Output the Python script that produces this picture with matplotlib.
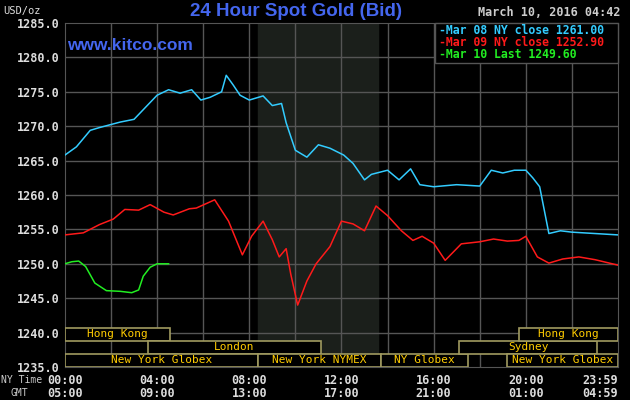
import matplotlib
matplotlib.use("Agg")
import matplotlib.pyplot as plt
from matplotlib.patches import Rectangle

mono = "DejaVu Sans Mono"

# hours since 00:00 NY time, prices in USD/oz
mar08_h = [0, 0.5, 1.1, 1.5, 2.4, 3.0, 4.0, 4.5, 5.0, 5.5, 5.9, 6.3, 6.8, 7.0, 7.3, 7.6, 8.0, 8.6, 9.0,
           9.4, 9.6, 10.0, 10.5, 11.0, 11.5, 12.1, 12.5, 13.0, 13.3, 14.0, 14.5, 15.0, 15.4, 16.0, 17.0,
           18.0, 18.5, 19.0, 19.5, 20.0, 20.3, 20.6, 21.0, 21.5, 22.0, 23.0, 24.0]
mar08_p = [1265.8, 1267.0, 1269.4, 1269.8, 1270.6, 1271.0, 1274.5, 1275.3, 1274.8, 1275.3, 1273.8, 1274.2,
           1275.0, 1277.4, 1276.0, 1274.5, 1273.8, 1274.4, 1273.0, 1273.3, 1270.5, 1266.5, 1265.5, 1267.3,
           1266.8, 1265.8, 1264.6, 1262.2, 1263.0, 1263.6, 1262.2, 1263.8, 1261.5, 1261.2, 1261.5, 1261.3,
           1263.6, 1263.2, 1263.6, 1263.6, 1262.5, 1261.2, 1254.4, 1254.8, 1254.6, 1254.4, 1254.2]

mar09_h = [0, 0.8, 1.5, 2.1, 2.6, 3.2, 3.7, 4.3, 4.7, 5.4, 5.7, 6.5, 7.1, 7.7, 8.1, 8.6, 9.0, 9.3, 9.6,
           9.8, 10.1, 10.5, 10.9, 11.5, 12.0, 12.5, 13.0, 13.5, 14.0, 14.6, 15.1, 15.5, 16.0, 16.5, 17.2,
           18.0, 18.6, 19.2, 19.7, 20.0, 20.5, 21.0, 21.6, 22.3, 23.0, 24.0]
mar09_p = [1254.2, 1254.5, 1255.7, 1256.5, 1257.9, 1257.8, 1258.6, 1257.5, 1257.1, 1258.0, 1258.1,
           1259.3, 1256.2, 1251.3, 1254.0, 1256.2, 1253.5, 1251.0, 1252.2, 1248.5, 1244.0, 1247.5,
           1250.0, 1252.5, 1256.2, 1255.8, 1254.8, 1258.4, 1257.0, 1254.8, 1253.4, 1254.0, 1253.0,
           1250.5, 1252.9, 1253.2, 1253.6, 1253.3, 1253.4, 1254.0, 1251.0, 1250.1, 1250.7, 1251.0,
           1250.6, 1249.8]

mar10_h = [0, 0.3, 0.6, 0.9, 1.3, 1.8, 2.4, 2.9, 3.2, 3.4, 3.7, 4.0, 4.5]
mar10_p = [1250.0, 1250.3, 1250.4, 1249.6, 1247.2, 1246.1, 1246.0, 1245.8, 1246.2, 1248.2, 1249.5, 1250.0, 1250.0]

# (label, start hour, end hour, row) ; row 0 = bottom
sessions = [("Hong Kong", 0, 4.55, 2), ("London", 3.6, 11.1, 1), ("New York Globex", 0, 8.4, 0),
            ("New York NYMEX", 8.4, 13.7, 0), ("NY Globex", 13.7, 17.5, 0), ("Sydney", 17.1, 23.1, 1),
            ("Hong Kong", 19.7, 24, 2), ("New York Globex", 19.2, 24, 0)]

ny_ticks = ["00:00", "04:00", "08:00", "12:00", "16:00", "20:00", "23:59"]
gmt_ticks = ["05:00", "09:00", "13:00", "17:00", "21:00", "01:00", "04:59"]
tick_h = [0, 4, 8, 12, 16, 20, 24]

fig = plt.figure(figsize=(6.3, 4.0), dpi=100, facecolor="black")
ax = fig.add_axes([0.103, 0.0825, 0.878, 0.86], facecolor="black")
ax.set_xlim(0, 24)
ax.set_ylim(1235, 1285)

ax.axvspan(8.38, 13.58, color="#1b1f1b", zorder=0)
for h in range(2, 24, 2):
    ax.axvline(h, color="#555555", lw=1, zorder=1)
for p in range(1240, 1285, 5):
    ax.axhline(p, color="#555555", lw=1, zorder=1)

ax.plot(mar08_h, mar08_p, color="#33ccff", lw=1.1, zorder=3)
ax.plot(mar09_h, mar09_p, color="#ff1a1a", lw=1.1, zorder=3)
ax.plot(mar10_h, mar10_p, color="#22ee22", lw=1.1, zorder=3)

rows = [(1235, 1236.9), (1236.9, 1238.8), (1238.8, 1240.7)]
for name, h0, h1, r in sessions:
    y0, y1 = rows[r]
    ax.add_patch(Rectangle((h0, y0), h1 - h0, y1 - y0, facecolor="black", ec="#a09a60", lw=1.2, zorder=4))
    ax.text((h0 + h1) / 2, (y0 + y1) / 2, name, color="#ffcc00", fontsize=8, family=mono,
            ha="center", va="center", zorder=5)

for s in ax.spines.values():
    s.set_color("#555555")
ax.set_xticks([])
ax.set_yticks(range(1235, 1290, 5))
ax.set_yticklabels([f"{v:.1f}" for v in range(1235, 1290, 5)], family=mono, fontsize=8.5,
                   color="#dddddd", fontweight="bold")
ax.tick_params(axis="y", length=0, pad=4)

for h, a, b in zip(tick_h, ny_ticks, gmt_ticks):
    ha = "right" if h == 24 else "center"
    ax.text(h, -0.038, a, transform=ax.get_xaxis_transform(), ha=ha, va="center",
            color="#dddddd", fontsize=8.5, family=mono, fontweight="bold")
    ax.text(h, -0.076, b, transform=ax.get_xaxis_transform(), ha=ha, va="center",
            color="#dddddd", fontsize=8.5, family=mono, fontweight="bold")
fig.text(0.002, 0.05, "NY Time", color="#cccccc", fontsize=7, family=mono, va="center")
fig.text(0.016, 0.017, "GMT", color="#cccccc", fontsize=7, family=mono, va="center")

fig.text(0.005, 0.965, "USD/oz", color="#dddddd", fontsize=7.5, family=mono)
fig.text(0.47, 0.96, "24 Hour Spot Gold (Bid)", color="#4466ee", fontsize=13.5,
         fontweight="bold", ha="center", family="Liberation Sans")
fig.text(0.107, 0.875, "www.kitco.com", color="#4466ee", fontsize=12.5, fontweight="bold",
         family="Liberation Sans")
fig.text(0.985, 0.96, "March 10, 2016 04:42", color="#cccccc", fontsize=8.5, family=mono,
         ha="right", fontweight="bold")

# legend box
fig.patches.append(Rectangle((0.69, 0.843), 0.291, 0.1, transform=fig.transFigure,
                             facecolor="black", edgecolor="#555555", lw=1, zorder=6))
leg = [("-Mar 08 NY close 1261.00", "#33ccff"), ("-Mar 09 NY close 1252.90", "#ff1a1a"),
       ("-Mar 10 Last 1249.60", "#22ee22")]
for i, (t, c) in enumerate(leg):
    fig.text(0.697, 0.925 - i * 0.031, t, color=c, fontsize=8.3, family=mono, va="center",
             fontweight="bold", zorder=7)

fig.savefig("out.png", dpi=100, facecolor="black")
